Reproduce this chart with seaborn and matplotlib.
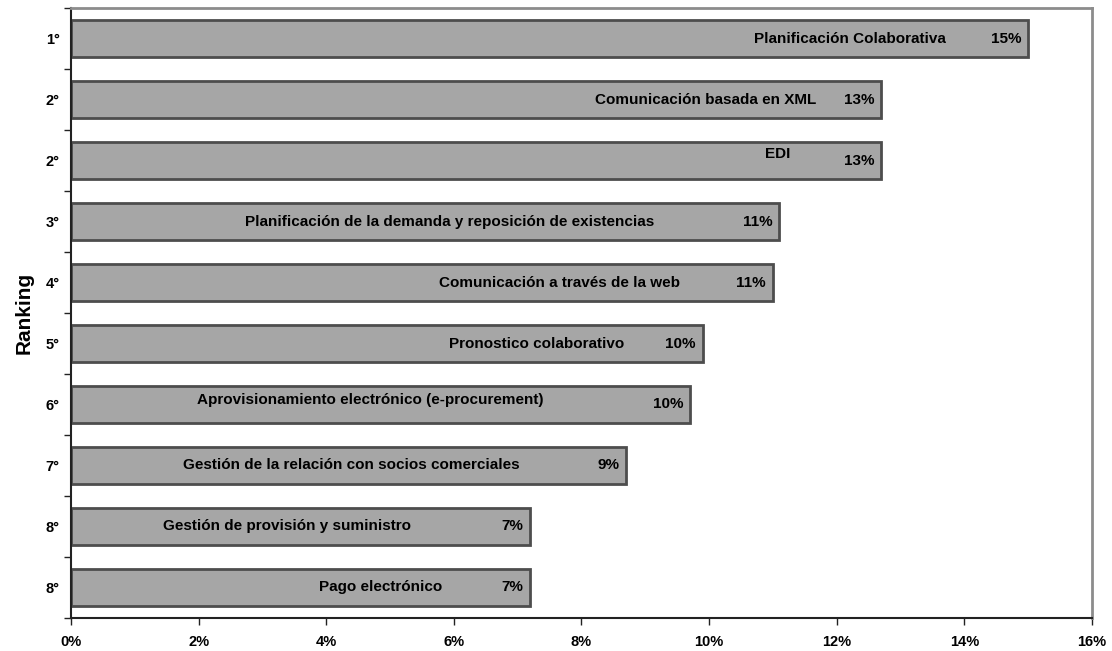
import pandas as pd
import matplotlib.pyplot as plt
import seaborn as sns
from matplotlib.ticker import FixedLocator, PercentFormatter

# datos del ranking
ranking = ['1°', '2°', '2°', '3°', '4°', '5°', '6°', '7°', '8°', '8°']
nombres = ['Planificación Colaborativa', 'Comunicación basada en XML', 'EDI',
           'Planificación de la demanda y reposición de existencias',
           'Comunicación a través de la web', 'Pronostico colaborativo',
           'Aprovisionamiento electrónico (e-procurement)',
           'Gestión de la relación con socios comerciales',
           'Gestión de provisión y suministro', 'Pago electrónico']
valores = [15.0, 12.7, 12.7, 11.1, 11.0, 9.9, 9.7, 8.7, 7.2, 7.2]
etiquetas = ['15%', '13%', '13%', '11%', '11%', '10%', '10%', '9%', '7%', '7%']

# posicion (centro x) de los nombres dentro de las barras
nombre_x = [12.21, 9.94, 11.07, 5.94, 7.66, 7.29, 4.69, 4.40, 3.39, 4.86]
nombre_dy = [0, 0, -0.1, 0, 0, 0, -0.08, 0, 0, 0]

df = pd.DataFrame({'fila': [f'r{i}' for i in range(len(valores))], 'valor': valores})

sns.set_style('white')
plt.rcParams['font.family'] = ['Liberation Sans', 'DejaVu Sans']
plt.rcParams['font.weight'] = 'bold'
plt.rcParams['text.color'] = 'black'
plt.rcParams['xtick.color'] = 'black'
plt.rcParams['ytick.color'] = 'black'
plt.rcParams['axes.labelcolor'] = 'black'

fig = plt.figure(figsize=(11.12, 6.51), dpi=100)
ax = fig.add_axes([0.0638, 0.0507, 0.9182, 0.937])
sns.barplot(data=df, x='valor', y='fila', orient='h', color='#a6a6a6',
            edgecolor='#4d4d4d', linewidth=2, width=0.6, saturation=1, ax=ax)

for i, p in enumerate(ax.patches):
    yc = p.get_y() + p.get_height() / 2
    ax.annotate(etiquetas[i], (p.get_width(), yc), xytext=(-5, 0),
                textcoords='offset points', ha='right', va='center',
                fontsize=11, fontweight='bold', color='black')
    ax.text(nombre_x[i], yc + nombre_dy[i], nombres[i], ha='center', va='center',
            fontsize=11, fontweight='bold', color='black')

ax.set_xlim(0, 16)
ax.set_ylim(len(valores) - 0.5, -0.5)
ax.xaxis.set_major_locator(FixedLocator(range(0, 17, 2)))
ax.xaxis.set_major_formatter(PercentFormatter(decimals=0))
ax.set_yticks(range(len(valores)))
ax.set_yticklabels(ranking)
ax.yaxis.set_minor_locator(FixedLocator([i - 0.5 for i in range(len(valores) + 1)]))
ax.tick_params(axis='y', which='major', length=0, pad=8, labelsize=10.5)
ax.tick_params(axis='y', which='minor', length=5, width=1, direction='out', color='#222222', left=True)
ax.tick_params(axis='x', which='major', length=5, width=1, direction='out', color='#222222',
               bottom=True, labelsize=10.5, pad=7)
for lbl in ax.get_xticklabels() + ax.get_yticklabels():
    lbl.set_fontweight('bold')

ax.set_xlabel('')
ax.set_ylabel('Ranking', fontsize=15, fontweight='bold', labelpad=9)

for s in ['left', 'bottom']:
    ax.spines[s].set_color('#222222')
    ax.spines[s].set_linewidth(1.5)
for s in ['top', 'right']:
    ax.spines[s].set_color('#8c8c8c')
    ax.spines[s].set_linewidth(2)

plt.savefig('out.png', dpi=100)
